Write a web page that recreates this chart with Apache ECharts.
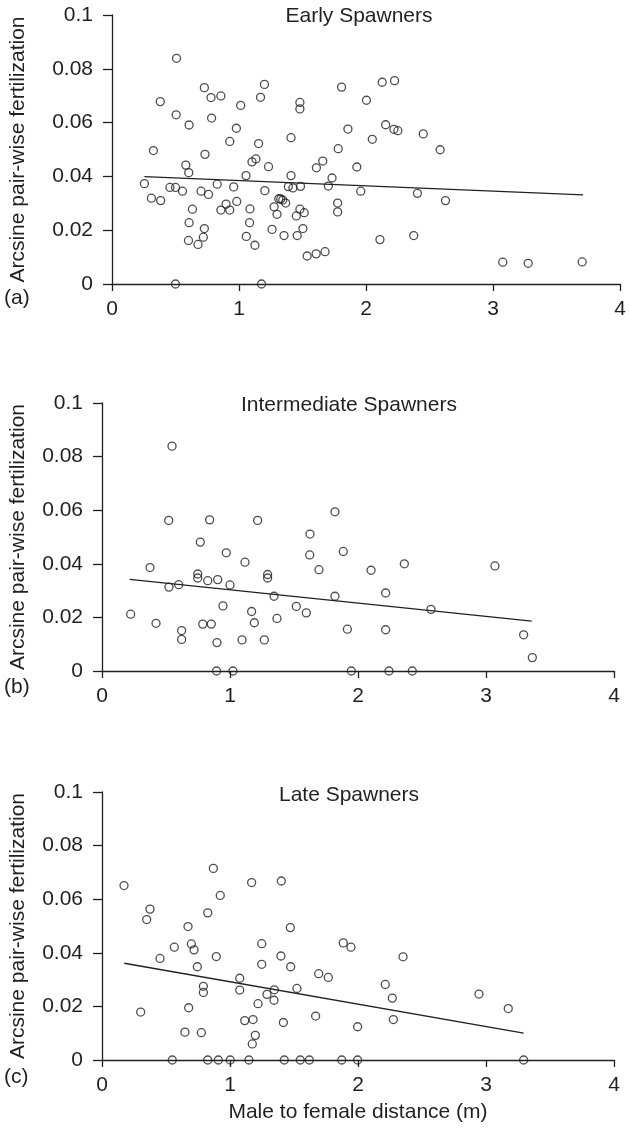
<!DOCTYPE html>
<html>
<head>
<meta charset="utf-8">
<script src="https://cdn.jsdelivr.net/npm/echarts@6/dist/echarts.min.js"></script>
<style>
  html, body { margin: 0; padding: 0; background: #fff; }
  #chart { width: 629px; height: 1133px; }
</style>
</head>
<body>
<div id="chart"></div>
<script>
// data: [distance (m), arcsine pair-wise fertilization]
var earlyPoints = [
  [0.508,0.0839],[0.727,0.0730],[1.200,0.0742],[0.779,0.0693],[0.857,0.0699],[0.380,0.0678],
  [1.169,0.0694],[1.013,0.0664],[0.505,0.0629],[0.784,0.0617],[0.607,0.0591],[0.979,0.0579],
  [0.927,0.0530],[1.154,0.0522],[0.326,0.0496],[0.732,0.0482],[1.133,0.0465],[1.102,0.0454],
  [0.581,0.0442],[0.604,0.0414],[1.055,0.0403],[0.255,0.0373],[0.456,0.0359],[0.500,0.0359],
  [0.555,0.0345],[0.310,0.0319],[0.383,0.0310],[0.701,0.0345],[0.760,0.0333],[0.828,0.0371],
  [0.958,0.0361],[1.203,0.0347],[0.898,0.0297],[0.982,0.0307],[0.857,0.0275],[0.927,0.0275],
  [1.086,0.0279],[0.633,0.0278],[0.607,0.0228],[1.083,0.0228],[0.727,0.0206],[0.719,0.0174],
  [0.602,0.0162],[0.677,0.0147],[1.057,0.0177],[1.125,0.0144],[0.500,0],[1.177,0],
  [1.807,0.0732],[2.127,0.0750],[2.224,0.0756],[1.479,0.0675],[1.479,0.0651],[2.003,0.0683],
  [1.857,0.0576],[2.154,0.0592],[2.219,0.0575],[2.250,0.0570],[2.450,0.0558],[1.409,0.0544],
  [2.049,0.0538],[1.781,0.0503],[1.659,0.0457],[1.609,0.0432],[1.927,0.0435],[1.232,0.0436],
  [1.409,0.0403],[1.732,0.0394],[1.703,0.0364],[1.388,0.0362],[1.424,0.0357],[1.484,0.0363],
  [1.958,0.0345],[2.404,0.0337],[1.313,0.0317],[1.328,0.0316],[1.344,0.0312],[1.367,0.0301],
  [1.276,0.0287],[1.299,0.0259],[1.479,0.0278],[1.513,0.0265],[1.451,0.0253],[1.776,0.0301],
  [1.776,0.0268],[1.260,0.0203],[1.354,0.0180],[1.458,0.0180],[1.503,0.0206],[2.109,0.0165],
  [2.375,0.0180],[1.536,0.0104],[1.607,0.0112],[1.677,0.0120],
  [2.583,0.0499],[2.625,0.0310],[3.076,0.0081],[3.276,0.0077],[3.701,0.0082]
];
var earlyFit = [[0.255,0.0399],[3.708,0.0331]];

var intermediatePoints = [
  [0.547,0.0839],[0.521,0.0562],[0.841,0.0564],[1.216,0.0562],[1.820,0.0594],[0.768,0.0481],
  [1.625,0.0511],[0.971,0.0441],[1.117,0.0406],[1.623,0.0433],[1.885,0.0446],[0.375,0.0386],
  [1.695,0.0378],[0.748,0.0362],[0.748,0.0347],[0.826,0.0337],[0.904,0.0341],[1.294,0.0360],
  [1.294,0.0347],[0.523,0.0313],[0.599,0.0322],[1.000,0.0321],[1.344,0.0279],[1.820,0.0279],
  [0.224,0.0212],[0.945,0.0243],[1.169,0.0222],[1.518,0.0241],[1.596,0.0217],[0.422,0.0178],
  [0.787,0.0175],[0.854,0.0175],[1.190,0.0180],[1.367,0.0196],[0.622,0.0151],[0.622,0.0118],
  [0.898,0.0106],[1.094,0.0116],[1.268,0.0116],[0.895,0],[1.023,0],[1.917,0.0156],
  [2.102,0.0376],[2.362,0.0400],[3.070,0.0392],[2.216,0.0291],[2.570,0.0230],[2.216,0.0154],
  [3.294,0.0135],[3.362,0.0050],[1.948,0],[2.242,0],[2.424,0]
];
var intermediateFit = [[0.216,0.0342],[3.357,0.0186]];

var latePoints = [
  [0.172,0.0651],[0.870,0.0715],[1.169,0.0662],[1.401,0.0668],[0.924,0.0614],[0.375,0.0563],
  [0.349,0.0524],[0.826,0.0549],[0.672,0.0498],[1.471,0.0494],[0.565,0.0421],[0.698,0.0433],
  [0.719,0.0411],[0.453,0.0379],[0.745,0.0348],[0.893,0.0386],[1.248,0.0434],[1.248,0.0357],
  [1.398,0.0388],[1.474,0.0348],[1.885,0.0437],[1.693,0.0322],[1.768,0.0308],[0.792,0.0275],
  [0.792,0.0252],[1.076,0.0305],[1.076,0.0261],[1.346,0.0262],[1.289,0.0245],[1.344,0.0223],
  [1.523,0.0267],[1.219,0.0210],[0.302,0.0179],[0.677,0.0195],[1.115,0.0147],[1.180,0.0151],
  [1.417,0.0140],[1.669,0.0164],[0.648,0.0104],[0.776,0.0102],[1.198,0.0092],[1.174,0.0060],
  [0.549,0],[0.826,0],[0.909,0],[1.002,0],[1.148,0],[1.424,0],[1.549,0],[1.620,0],[1.873,0],
  [1.997,0],[3.294,0],
  [1.945,0.0421],[2.352,0.0385],[2.213,0.0282],[2.268,0.0231],[2.276,0.0151],[1.997,0.0124],
  [2.945,0.0246],[3.174,0.0192]
];
var lateFit = [[0.174,0.0361],[3.294,0.0100]];

var panelTitles = ['Early Spawners', 'Intermediate Spawners', 'Late Spawners'];
var panelLetters = ['(a)', '(b)', '(c)'];
var yName = 'Arcsine pair-wise fertilization';
var xName = 'Male to female distance (m)';

var ink = '#231f20';
var font = '"Liberation Sans", Arial, Helvetica, sans-serif';
var fs = 21;

var grids = [
  {left: 112, top: 15, width: 512, height: 269},
  {left: 102, top: 403, width: 512, height: 268},
  {left: 102, top: 792, width: 512, height: 268}
];

function xAx(i) {
  return {
    gridIndex: i, type: 'value', min: 0, max: 4, interval: 1,
    name: i == 2 ? xName : '', nameLocation: 'middle', nameGap: 42,
    nameTextStyle: {color: ink, fontSize: fs, fontFamily: font},
    axisLine: {onZero: false, lineStyle: {color: ink, width: 1.3}},
    axisTick: {length: 7, lineStyle: {color: ink, width: 1.3}},
    axisLabel: {margin: 15, color: ink, fontSize: fs, fontFamily: font},
    splitLine: {show: false}
  };
}
function yAx(i) {
  return {
    gridIndex: i, type: 'value', min: 0, max: 0.1, interval: 0.02,
    name: yName, nameLocation: 'middle', nameGap: i == 0 ? 83 : 73,
    nameTextStyle: {color: ink, fontSize: fs, fontFamily: font},
    axisLine: {onZero: false, lineStyle: {color: ink, width: 1.3}},
    axisTick: {length: 9, lineStyle: {color: ink, width: 1.3}},
    axisLabel: {margin: 19, color: ink, fontSize: fs, fontFamily: font},
    splitLine: {show: false}
  };
}
function dots(i, data) {
  return {
    type: 'scatter', xAxisIndex: i, yAxisIndex: i, data: data,
    symbol: 'circle', symbolSize: 8, clip: false, z: 5,
    itemStyle: {color: 'rgba(0,0,0,0)', borderColor: ink, borderWidth: 1.3},
    emphasis: {disabled: true}
  };
}
function fit(i, data) {
  return {
    type: 'line', xAxisIndex: i, yAxisIndex: i, data: data,
    showSymbol: false, symbol: 'none', z: 4,
    lineStyle: {color: ink, width: 1.3}
  };
}

var graphics = [];
var titleY = [16, 405, 795];
var letterY = [298, 687, 1077];
for (var k = 0; k < 3; k++) {
  graphics.push({type: 'text', x: grids[k].left + 247, y: titleY[k],
    style: {text: panelTitles[k], fill: ink, font: fs + 'px ' + font,
      textAlign: 'center', textVerticalAlign: 'middle'}});
  graphics.push({type: 'text', x: 4, y: letterY[k],
    style: {text: panelLetters[k], fill: ink, font: fs + 'px ' + font,
      textAlign: 'left', textVerticalAlign: 'middle'}});
}

var chart = echarts.init(document.getElementById('chart'), null, {renderer: 'canvas'});
chart.setOption({
  animation: false,
  backgroundColor: '#fff',
  grid: grids,
  xAxis: [xAx(0), xAx(1), xAx(2)],
  yAxis: [yAx(0), yAx(1), yAx(2)],
  graphic: graphics,
  series: [
    dots(0, earlyPoints), fit(0, earlyFit),
    dots(1, intermediatePoints), fit(1, intermediateFit),
    dots(2, latePoints), fit(2, lateFit)
  ]
});
</script>
</body>
</html>
